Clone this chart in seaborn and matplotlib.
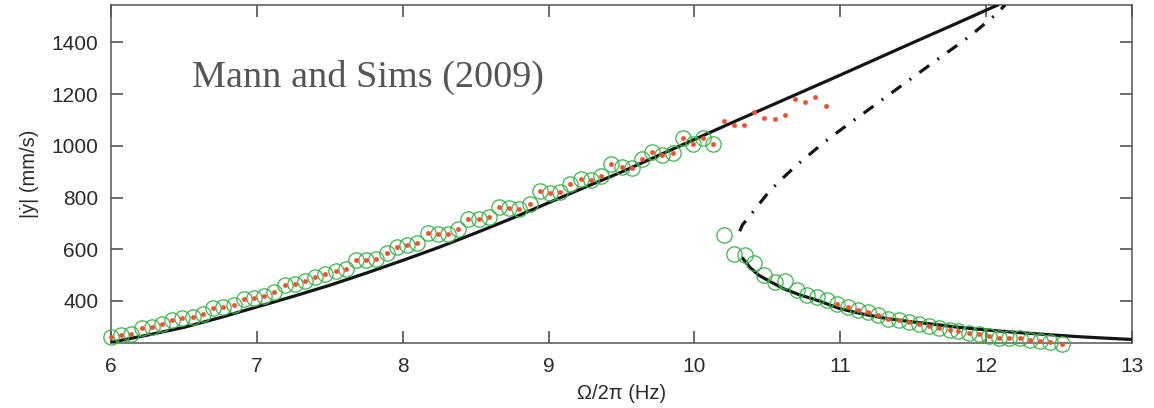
import numpy as np
import pandas as pd
import matplotlib
matplotlib.use("Agg")
import matplotlib.pyplot as plt
import seaborn as sns

# ---- data ----
green_up_x = [6.00, 6.07, 6.14, 6.21, 6.28, 6.35, 6.42, 6.49, 6.56, 6.63, 6.70, 6.77, 6.84, 6.91, 6.98,
              7.05, 7.12, 7.19, 7.26, 7.33, 7.40, 7.47, 7.54, 7.61, 7.68, 7.75, 7.82, 7.89, 7.96,
              8.03, 8.10, 8.17, 8.24, 8.31, 8.38, 8.45, 8.52, 8.59, 8.66, 8.73, 8.80, 8.87, 8.94,
              9.01, 9.08, 9.15, 9.22, 9.29, 9.36, 9.43, 9.50, 9.57, 9.64, 9.71, 9.78, 9.85, 9.92,
              9.99, 10.06, 10.13]
green_up_y = [261, 267, 271, 297, 299, 310, 328, 333, 338, 350, 371, 377, 386, 407, 413,
              418, 435, 461, 467, 476, 493, 506, 515, 525, 557, 560, 564, 586, 609,
              615, 626, 663, 658, 658, 680, 719, 716, 723, 764, 761, 755, 777, 824,
              819, 822, 851, 871, 867, 882, 931, 918, 916, 948, 976, 964, 973, 1032,
              1009, 1030, 1007]

green_low_x = [10.20, 10.27, 10.35, 10.41, 10.48, 10.55, 10.62, 10.70, 10.77, 10.84, 10.91,
               10.98, 11.05, 11.12, 11.19, 11.26, 11.33, 11.40, 11.47, 11.54, 11.61, 11.68,
               11.75, 11.81, 11.88, 11.95, 12.02, 12.09, 12.16, 12.23, 12.30, 12.37, 12.44, 12.52]
green_low_y = [657, 581, 577, 547, 499, 474, 477, 442, 424, 415, 403,
               390, 377, 367, 357, 345, 332, 325, 319, 310, 302, 296,
               289, 283, 276, 271, 263, 258, 257, 255, 251, 245, 241, 235]

red_jump_x = [10.20, 10.27, 10.34, 10.41, 10.48, 10.55, 10.62, 10.69, 10.76, 10.83, 10.90]
red_jump_y = [1095, 1081, 1081, 1131, 1109, 1103, 1121, 1183, 1170, 1188, 1154]
red_low_start = 11  # red dots on the lower branch start at 10.98 Hz

theory_up_x = [6.0, 6.25, 6.5, 6.75, 7.0, 7.25, 7.5, 7.75, 8.0, 8.25, 8.5, 8.75, 9.0, 9.25,
               9.5, 9.75, 10.0, 10.25, 10.5, 10.75, 11.0, 11.25, 11.5, 11.75, 12.0, 12.08]
theory_up_y = [240, 268, 298, 336, 377, 418, 461, 508, 557, 608, 663, 720, 780, 840,
               899, 962, 1025, 1088, 1150, 1212, 1274, 1337, 1400, 1462, 1525, 1545]

unstable_x = [10.31, 10.33, 10.37, 10.43, 10.50, 10.58, 10.69, 10.77, 10.87, 10.95, 11.07,
              11.15, 11.29, 11.49, 11.68, 11.89, 12.07, 12.13]
unstable_y = [670, 695, 722, 765, 815, 862, 920, 958, 1005, 1040, 1090,
              1122, 1180, 1262, 1340, 1425, 1510, 1545]

theory_low_x = [10.33, 10.38, 10.44, 10.52, 10.61, 10.72, 10.84, 11.0, 11.15, 11.32, 11.5,
                11.64, 11.8, 11.98, 12.15, 12.32, 12.5, 12.66, 12.83, 13.0]
theory_low_y = [566, 530, 500, 475, 448, 424, 403, 370, 350, 332, 319,
                310, 299, 289, 281, 274, 267, 261, 256, 251]

x_ticks = [6, 7, 8, 9, 10, 11, 12, 13]
y_ticks = [400, 600, 800, 1000, 1200, 1400]

# ---- style ----
sns.set_style("ticks")
plt.rcParams['font.family'] = ['Liberation Sans', 'DejaVu Sans']

fig = plt.figure(figsize=(11.54, 4.08), dpi=100)
ax = fig.add_axes([111/1154, 1 - 343/408, (1132-111)/1154, (343-5)/408])

GREEN = '#3cb44b'
RED = '#f0502a'
BLACK = '#151515'

green_up = pd.DataFrame({'x': green_up_x, 'y': green_up_y})
green_low = pd.DataFrame({'x': green_low_x, 'y': green_low_y})
red = pd.DataFrame({'x': green_up_x + red_jump_x + green_low_x[red_low_start:],
                    'y': green_up_y + red_jump_y + green_low_y[red_low_start:]})

# theory curves
sns.lineplot(x=theory_up_x, y=theory_up_y, ax=ax, color=BLACK, lw=2.3,
             sort=False, estimator=None, zorder=3)
sns.lineplot(x=theory_low_x, y=theory_low_y, ax=ax, color=BLACK, lw=2.3,
             sort=False, estimator=None, zorder=3)
sns.lineplot(x=unstable_x, y=unstable_y, ax=ax, color=BLACK, lw=2.3,
             linestyle=(0, (3.8, 3.2, 0.6, 3.2)), sort=False, estimator=None, zorder=3)

# green circles
for df in (green_up, green_low):
    sns.lineplot(data=df, x='x', y='y', ax=ax, linestyle='', marker='o',
                 markersize=11, markerfacecolor='none', markeredgecolor=GREEN,
                 markeredgewidth=0.9, sort=False, estimator=None, clip_on=False, zorder=4)
# red dots
sns.lineplot(data=red, x='x', y='y', ax=ax, linestyle='', marker='o',
             markersize=3.2, markerfacecolor=RED, markeredgecolor=RED,
             markeredgewidth=0.3, sort=False, estimator=None, clip_on=False, zorder=5)

ax.set_xlim(6, 13)
ax.set_ylim(237.5, 1545)
ax.set_xticks(x_ticks)
ax.set_yticks(y_ticks)
ax.tick_params(direction='in', length=8.5, width=1.1, color='#444444',
               top=True, right=True, labelsize=15, labelcolor='#2a2a2a', pad=9)
ax.tick_params(axis='x', pad=10)
for sp in ax.spines.values():
    sp.set_color('#555555')
    sp.set_linewidth(1.1)

ax.set_xlabel('Ω/2π (Hz)', fontsize=14.5, color='#2a2a2a', labelpad=6)
ax.set_ylabel('|ẏ| (mm/s)', fontsize=14.5, color='#2a2a2a', labelpad=9)

ax.text(0.079, 0.757, 'Mann and Sims (2009)', transform=ax.transAxes,
        family=['Liberation Serif', 'DejaVu Serif'], fontsize=27.5, color='#555555',
        ha='left', va='baseline')

fig.savefig('out.png', dpi=100)
